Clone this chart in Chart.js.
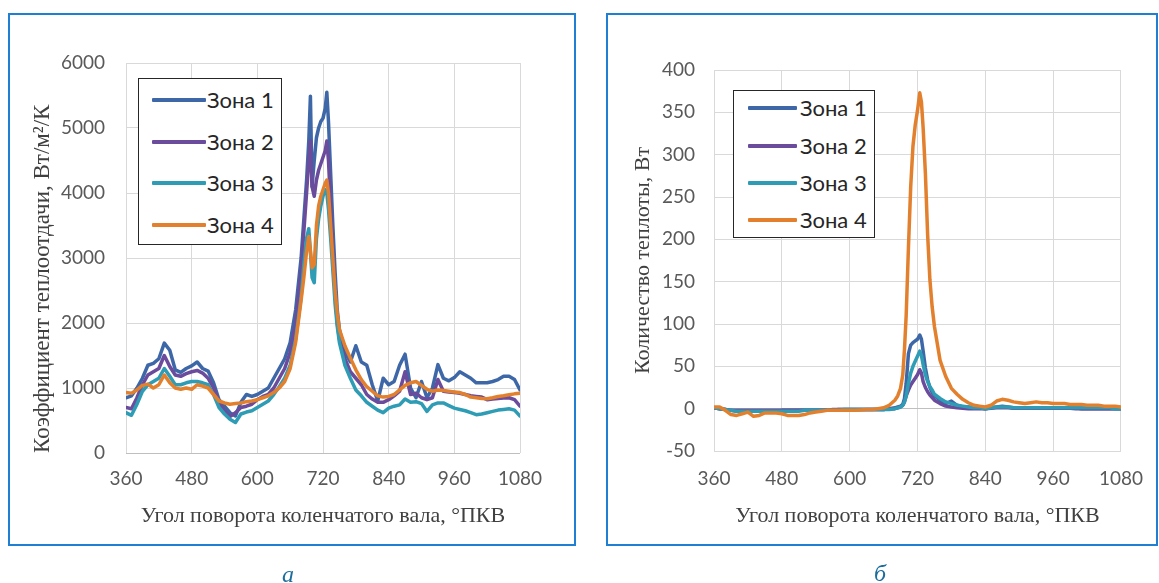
<!DOCTYPE html>
<html><head><meta charset="utf-8">
<script src="https://cdn.jsdelivr.net/npm/chart.js@4"></script>
<style>
html,body{margin:0;padding:0;background:#fff;}
body{width:1159px;height:583px;position:relative;overflow:hidden;}
.frame{position:absolute;border:2px solid #1f7fd2;box-sizing:border-box;}
.cv{position:absolute;top:0;}
.legend{position:absolute;border:1.5px solid #262626;background:#fff;box-sizing:border-box;}
.item{position:absolute;height:0;}
.sw{position:absolute;height:4px;border-radius:1px;}
.lt{position:absolute;font-family:Lato,"Open Sans",sans-serif;font-size:22px;color:#262626;white-space:nowrap;line-height:26px;}
.cap{position:absolute;font-family:"Liberation Serif",serif;font-style:italic;font-size:24px;color:#1c6d9c;transform:translate(-50%,-50%);}
</style></head>
<body>
<div class="frame" style="left:8px;top:13px;width:568px;height:533px;"></div>
<div class="frame" style="left:606px;top:13px;width:552px;height:533px;"></div>
<canvas id="c1" class="cv" style="left:0px" width="590" height="583"></canvas>
<canvas id="c2" class="cv" style="left:590px" width="569" height="583"></canvas>
<div id="lg1" class="legend" style="left:138px;top:78px;width:144px;height:167px;"></div>
<div id="lg2" class="legend" style="left:733px;top:90px;width:142px;height:148px;"></div>
<div class="cap" style="left:288px;top:574px;">а</div>
<div class="cap" style="left:880px;top:573px;">б</div>
<script>
const seriesNames = ["Зона 1","Зона 2","Зона 3","Зона 4"];
const seriesColors = ["#3e67a8","#6a4b9c","#2e9cb4","#e2802e"];
const xTicks = [360,480,600,720,840,960,1080];
const alphaTicks = [0,1000,2000,3000,4000,5000,6000];
const qTicks = [-50,0,50,100,150,200,250,300,350,400];
const angles = [360,370,380,390,400,410,420,430,440,450,
460,470,480,490,500,510,520,530,540,550,
560,570,580,590,600,610,620,630,640,650,
660,670,680,
685,690,694,697,700,704,708,712,716,720,
724,727,730,734,738,742,746,750,
760,770,780,790,800,810,820,830,840,850,
860,870,880,890,900,910,920,930,940,950,
960,970,980,990,1000,1010,1020,1030,1040,1050,
1060,1070,1080];

// а: коэффициент теплоотдачи
const zone1Alpha = [850,880,1000,1150,1350,1380,1450,1690,1580,1280,
1240,1300,1340,1400,1300,1260,1080,820,720,620,
570,780,900,870,900,950,1000,1150,1300,1450,
1700,2200,3000,
3600,4200,4800,5490,4100,4500,4850,5000,5100,5150,
5300,5550,5100,4300,3500,2800,2200,1900,
1550,1400,1650,1400,1350,1050,800,1150,1050,1100,
1350,1520,1000,850,1100,850,1000,1360,1150,1110,
1160,1250,1200,1150,1080,1080,1080,1100,1130,1180,
1180,1130,970];
const zone2Alpha = [700,680,850,1050,1200,1250,1300,1500,1330,1200,
1180,1220,1250,1270,1230,1150,1000,780,650,560,
620,700,720,750,820,870,900,1000,1150,1300,
1550,2000,2800,
3400,4000,4500,4800,4100,3950,4200,4350,4450,4550,
4650,4800,4500,3800,3100,2500,2000,1750,
1450,1250,1150,1050,900,830,780,780,820,880,
950,1250,900,920,850,820,850,1130,950,940,
930,920,900,880,870,860,820,830,840,845,
850,820,720];
const zone3Alpha = [620,580,750,950,1050,1100,1150,1300,1180,1050,
1050,1080,1100,1100,1080,1050,900,700,600,520,
470,600,630,650,700,750,800,900,1020,1150,
1350,1750,2400,
2900,3300,3450,3100,2700,2620,3300,3600,3800,3950,
4050,4000,3750,3300,2800,2300,1950,1700,
1350,1150,970,880,780,720,660,620,690,720,
740,830,780,790,760,640,740,770,770,730,
690,670,650,620,590,600,620,640,660,670,
680,660,570];
const zone4Alpha = [930,920,970,1040,1060,1000,1050,1200,1080,1000,
980,1000,980,1050,1030,1000,900,800,770,750,
760,770,790,800,820,850,880,930,1000,1100,
1300,1700,2350,
2700,3100,3330,3100,2850,2900,3500,3800,3950,4050,
4150,4200,4000,3500,3000,2500,2150,1900,
1650,1460,1280,1130,1020,950,880,860,870,900,
970,1040,1080,1100,1040,980,950,970,960,950,
940,930,900,860,850,840,835,850,870,880,
895,910,920];

// б: количество теплоты
const zone1Q = [1,0,-1,-2,-3,-3,-3,-3,-3,-3,
-3,-3,-2,-2,-2,-2,-2,-2,-2,-2,
-2,-2,-1,-1,-1,-1,-1,-1,-1,-1,
-1,0,1,
2,3,5,12,30,65,75,78,80,82,
87,82,68,48,34,25,19,15,
10,6,9,4,2,2,1,1,0,1,
2,3,2,1,1,1,1,1,1,1,
1,1,1,1,1,0,0,0,0,0,
0,0,0];
const zone2Q = [1,0,-1,-2,-2,-2,-2,-2,-2,-2,
-2,-2,-2,-2,-2,-2,-2,-2,-2,-2,
-2,-1,-1,-1,-1,-1,-1,-1,-1,-1,
-1,0,0,
1,2,4,8,15,22,28,32,36,40,
46,42,32,25,20,16,13,10,
6,3,2,1,0.5,0,0,0,0,0.5,
1,1,1,0.5,0.5,0.5,0.5,0.5,0.5,0.5,
0.5,0.5,0.5,0.5,0,0,0,0,0,0,
0,0,0];
const zone3Q = [1,0,-1,-2,-3,-3,-3,-3,-3,-3,
-3,-3,-3,-3,-3,-3,-2,-2,-2,-2,
-2,-2,-2,-1,-1,-1,-1,-1,-1,-1,
-1,-1,0,
1,2,4,8,15,30,42,50,56,62,
68,63,52,40,32,26,22,17,
12,8,6,4,3,2,1,1,0,1,
2,2,2,1,1,1,1,1,1,1,
1,1,1,1,1,1,1,1,1,1,
1,0,0];
const zone4Q = [2,2,-2,-7,-8,-6,-4,-9,-8,-5,
-5,-5,-6,-8,-8,-8,-7,-5,-4,-3,
-2,-2,-2,-2,-2,-2,-1.5,-1,-1,0,
1,4,10,
15,24,40,70,110,190,262,310,335,352,
373,362,332,278,205,152,120,97,
57,38,24,17,11,7,4,3,2,4,
9,11,10,8,7,6,7,8,7,7,
6,6,6,5,5,5,4,4,4,3,
3,3,2];

const alphaSeries = [zone1Alpha, zone2Alpha, zone3Alpha, zone4Alpha];
const qSeries = [zone1Q, zone2Q, zone3Q, zone4Q];

function buildDatasets(series){
  return series.map((arr,k)=>({
    label: seriesNames[k],
    data: angles.map((a,i)=>({x:a,y:arr[i]})),
    borderColor: seriesColors[k],
    backgroundColor: seriesColors[k],
    borderWidth: 3.5,
    pointRadius: 0,
    tension: 0,
    fill: false,
    borderJoinStyle: 'round',
    borderCapStyle: 'round',
    order: 4 - k
  }));
}

const tickFont = {family: 'Lato, "Open Sans", sans-serif', size: 19};
const plain = v => String(v);

function makeChart(id, series, yTicks, yMin, yMax, yTitle, cfg){
  return new Chart(document.getElementById(id), {
    type: 'line',
    data: {datasets: buildDatasets(series)},
    options: {
      responsive: false,
      animation: false,
      events: [],
      layout: {padding: cfg.padding},
      plugins: {legend: {display: false}, tooltip: {enabled: false}},
      scales: {
        x: {
          type: 'linear', min: 360, max: 1080,
          afterBuildTicks: s => { s.ticks = xTicks.map(v => ({value: v})); },
          afterFit: s => { s.height = cfg.xHeight; },
          ticks: {font: tickFont, color: '#595959', padding: cfg.xTickPad, maxRotation: 0, autoSkip: false, callback: plain},
          grid: {color: '#d9d9d9', lineWidth: 1, drawTicks: false},
          border: {display: false},
          title: {display: true, text: 'Угол поворота коленчатого вала, °ПКВ',
            font: {family: '"Liberation Serif", "Times New Roman", serif', size: 22}, color: '#404040', padding: {top: 0, bottom: 0}}
        },
        y: {
          type: 'linear', min: yMin, max: yMax,
          afterBuildTicks: s => { s.ticks = yTicks.map(v => ({value: v})); },
          afterFit: s => { s.width = cfg.yWidth; },
          ticks: {font: tickFont, color: '#595959', padding: cfg.yTickPad, autoSkip: false, callback: plain},
          grid: {color: c => (c.tick && c.tick.value === 0 ? '#bfbfbf' : '#d9d9d9'), lineWidth: 1, drawTicks: false},
          border: {display: false},
          title: {display: true, text: yTitle,
            font: {family: '"Liberation Serif", "Times New Roman", serif', size: cfg.yTitleSize}, color: '#404040', align: cfg.yTitleAlign, padding: {top: 0, bottom: 0}}
        }
      }
    }
  });
}

const ch1 = makeChart('c1', alphaSeries, alphaTicks, 0, 6000, 'Коэффициент теплоотдачи, Вт/м²/К',
  {padding: {left: 29, top: 63, right: 70, bottom: 53.8}, yWidth: 97, xHeight: 76.2, xTickPad: 14, yTickPad: 21, yTitleAlign: 'start', yTitleSize: 23});
const ch2 = makeChart('c2', qSeries, qTicks, -50, 400, 'Количество теплоты, Вт',
  {padding: {left: 40, top: 70, right: 30, bottom: 53.8}, yWidth: 84, xHeight: 78.2, xTickPad: 16, yTickPad: 19, yTitleAlign: 'center', yTitleSize: 22});

function buildLegend(el, chart, spec){
  chart.data.datasets.forEach((ds, i) => {
    const it = document.createElement('div');
    it.className = 'item';
    it.style.top = spec.rows[i] + 'px';
    const sw = document.createElement('div');
    sw.className = 'sw';
    sw.style.left = spec.swL + 'px';
    sw.style.width = spec.swW + 'px';
    sw.style.top = '-2px';
    sw.style.background = ds.borderColor;
    const t = document.createElement('div');
    t.className = 'lt';
    t.style.left = spec.txL + 'px';
    t.style.top = '-13px';
    t.textContent = ds.label;
    it.appendChild(sw); it.appendChild(t);
    el.appendChild(it);
  });
}
buildLegend(document.getElementById('lg1'), ch1, {rows: [21, 62.5, 104, 145.5], swL: 13, swW: 54, txL: 68});
buildLegend(document.getElementById('lg2'), ch2, {rows: [17, 55, 91.5, 129], swL: 14, swW: 49, txL: 66});
</script>
</body></html>
